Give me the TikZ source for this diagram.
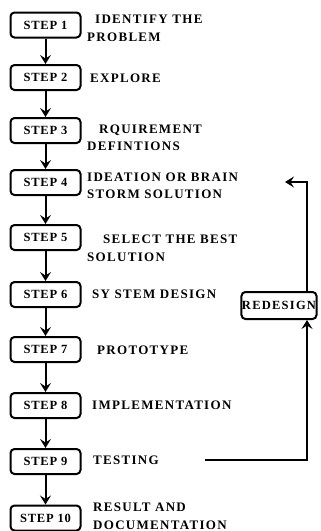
\documentclass[tikz,border=0pt]{standalone}
\usepackage{fontspec}
\setmainfont{Liberation Serif}
\newfontfamily\lblfont[LetterSpace=10]{Liberation Serif}
\newfontfamily\stepfont[LetterSpace=6]{Liberation Serif}
\usetikzlibrary{%
  arrows.meta,%
  calc%
}
\tikzset{
  stepbox/.style={draw,line width=2pt,rounded corners=4pt,minimum width=70pt,
    minimum height=25pt,inner sep=0pt,font=\stepfont\bfseries\fontsize{12.5}{13}\selectfont},
  lbl/.style={anchor=west,align=left,inner sep=1pt,
    font=\lblfont\bfseries\fontsize{13}{17.5}\selectfont},
  flow/.style={line width=2pt,-{Stealth[length=9pt,width=11pt,inset=3.5pt]}}
}

\begin{document}
\begin{tikzpicture}[x=1pt,y=-1pt]
    \useasboundingbox (0,0) rectangle (321,531);
    % title, cut off by the page top
    \node[anchor=base west,inner sep=0pt,font=\bfseries\fontsize{22}{22}\selectfont]
    (title) at (-1,-11) {ng Approach};
    % the ten steps
    \foreach \n/\y in {1/25,2/77.5,3/130.5,4/182.5,5/237.5,6/294.5,7/349.5,8/405.5,9/461.5,10/518}
      \node[stepbox] (s\n) at (45.5,\y) {STEP \n};
    \foreach \a [count=\b from 2] in {1,...,9}
      \draw[flow] (s\a) -- (s\b);
    % what each step does
    \node[lbl] (t1) at (86,28.5) {\hspace*{8pt}IDENTIFY THE\\PROBLEM};
    \node[lbl] (t2) at (89,78) {EXPLORE};
    \node[lbl] (t3) at (86,138) {\hspace*{12pt}RQUIREMENT\\DEFINTIONS};
    \node[lbl] (t4) at (86,186) {IDEATION OR BRAIN\\STORM SOLUTION};
    \node[lbl] (t5) at (86,248.5) {\hspace*{16pt}SELECT THE BEST\\SOLUTION};
    \node[lbl] (t6) at (91,294.5) {SY STEM DESIGN};
    \node[lbl] (t7) at (96,350.5) {PROTOTYPE};
    \node[lbl] (t8) at (91,405) {IMPLEMENTATION};
    \node[lbl] (t9) at (92,460) {TESTING};
    \node[lbl] (t10) at (92,516.5) {RESULT AND\\DOCUMENTATION};
    % loop back
    \node[draw,line width=2pt,rounded corners=4pt,minimum height=27pt,inner sep=0.5pt,
      font=\lblfont\bfseries\fontsize{12.5}{12}\selectfont] (rd) at (279,305.5) {REDESIGN};
    \coordinate (fb1) at (205,460);
    \coordinate (fb2) at (285,182);
    \draw[flow] (fb1) -| ($(rd.south)+(28,0)$);
    \draw[flow] ($(rd.north)+(28,0)$) |- (fb2);
\end{tikzpicture}
\end{document}
